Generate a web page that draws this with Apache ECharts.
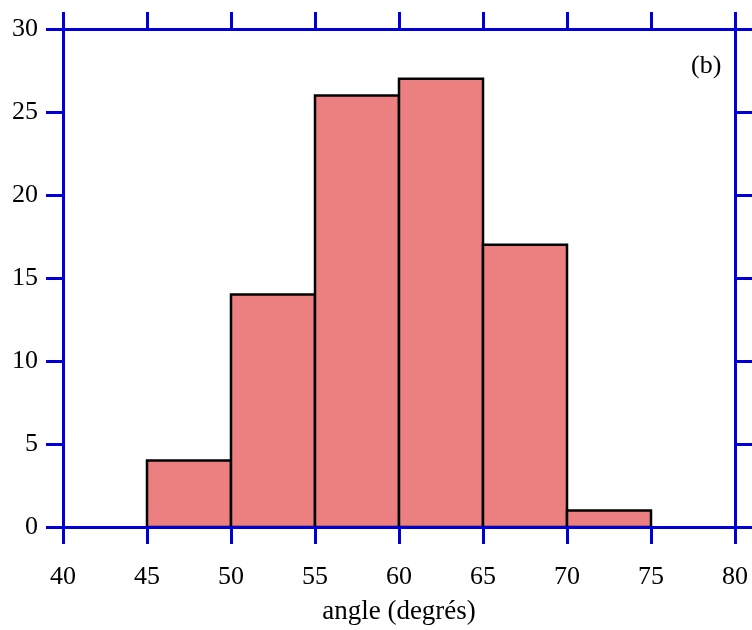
<!DOCTYPE html>
<html><head><meta charset="utf-8">
<script src="https://cdn.jsdelivr.net/npm/echarts@6/dist/echarts.min.js"></script>
<style>html,body{margin:0;padding:0;background:#fff}#c{width:752px;height:630px}</style>
</head><body><div id="c"></div>
<script>
const binStart = [45, 50, 55, 60, 65, 70];
const binEnd   = [50, 55, 60, 65, 70, 75];
const counts   = [4, 14, 26, 27, 17, 1];
const xTicks = [40, 45, 50, 55, 60, 65, 70, 75, 80];
const yTicks = [0, 5, 10, 15, 20, 25, 30];
const xTitle = 'angle (degrés)';
const panelLabel = '(b)';

const BLUE = '#0000d6';
const FONT = 'Liberation Serif';
const FS = 26;
const chart = echarts.init(document.getElementById('c'), null, {renderer: 'canvas'});
const data = binStart.map((s, i) => [s, binEnd[i], counts[i]]);
const axisCommon = {
  axisLine: {show: true, onZero: false, lineStyle: {color: BLUE, width: 3}},
  axisTick: {show: true, inside: false, length: 17, lineStyle: {color: BLUE, width: 3}},
  splitLine: {show: false},
  z: 10
};
chart.setOption({
  animation: false,
  grid: {left: 63, right: 17, top: 29, bottom: 103, show: false},
  xAxis: [
    Object.assign({type: 'value', position: 'bottom', min: xTicks[0], max: xTicks[xTicks.length - 1], interval: 5,
      axisLabel: {color: '#000', fontFamily: FONT, fontSize: FS, margin: 37},
      name: xTitle, nameLocation: 'middle', nameGap: 71,
      nameTextStyle: {color: '#000', fontFamily: FONT, fontSize: 27}}, axisCommon),
    Object.assign({type: 'value', position: 'top', min: xTicks[0], max: xTicks[xTicks.length - 1], interval: 5,
      axisLabel: {show: false}}, axisCommon)
  ],
  yAxis: [
    Object.assign({type: 'value', position: 'left', min: yTicks[0], max: yTicks[yTicks.length - 1], interval: 5,
      axisLabel: {color: '#000', fontFamily: FONT, fontSize: FS, margin: 25}}, axisCommon),
    Object.assign({type: 'value', position: 'right', min: yTicks[0], max: yTicks[yTicks.length - 1], interval: 5,
      axisLabel: {show: false}}, axisCommon)
  ],
  series: [{
    type: 'custom',
    xAxisIndex: 0, yAxisIndex: 0,
    data: data,
    encode: {x: [0, 1], y: 2},
    renderItem: function (params, api) {
      const p0 = api.coord([api.value(0), api.value(2)]);
      const p1 = api.coord([api.value(1), 0]);
      return {
        type: 'rect',
        shape: {x: p0[0], y: p0[1], width: p1[0] - p0[0], height: p1[1] - p0[1]},
        style: {fill: '#ec7f7f', stroke: '#000', lineWidth: 2.5}
      };
    }
  }],
  graphic: [{
    type: 'text', left: 691, top: 53,
    style: {text: panelLabel, fill: '#000', font: FS + 'px "Liberation Serif"'}
  }]
});
</script></body></html>
